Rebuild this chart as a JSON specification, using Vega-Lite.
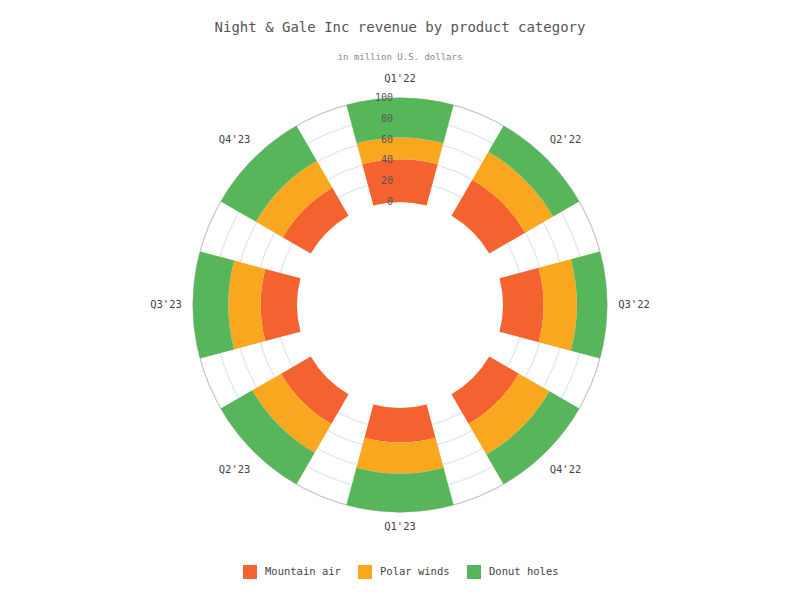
{
  "$schema": "https://vega.github.io/schema/vega-lite/v6.json",
  "width": 800,
  "height": 470,
  "autosize": {"type": "none"},
  "padding": {"left": 0, "right": 0, "top": 70, "bottom": 60},
  "background": "white",
  "title": {
    "text": "Night & Gale Inc revenue by product category",
    "subtitle": "in million U.S. dollars",
    "font": "DejaVu Sans Mono",
    "fontSize": 14,
    "fontWeight": "normal",
    "color": "#555555",
    "subtitleFont": "DejaVu Sans Mono",
    "subtitleFontSize": 9,
    "subtitleColor": "#888888",
    "subtitlePadding": 18,
    "anchor": "middle",
    "offset": 8
  },
  "datasets": {
    "revenue": [
      {"quarter": "Q1'22", "category": "Mountain air", "value": 41},
      {"quarter": "Q1'22", "category": "Polar winds", "value": 21},
      {"quarter": "Q1'22", "category": "Donut holes", "value": 38},
      {"quarter": "Q2'22", "category": "Mountain air", "value": 40},
      {"quarter": "Q2'22", "category": "Polar winds", "value": 31},
      {"quarter": "Q2'22", "category": "Donut holes", "value": 29},
      {"quarter": "Q3'22", "category": "Mountain air", "value": 39},
      {"quarter": "Q3'22", "category": "Polar winds", "value": 32},
      {"quarter": "Q3'22", "category": "Donut holes", "value": 29},
      {"quarter": "Q4'22", "category": "Mountain air", "value": 33},
      {"quarter": "Q4'22", "category": "Polar winds", "value": 34},
      {"quarter": "Q4'22", "category": "Donut holes", "value": 33},
      {"quarter": "Q1'23", "category": "Mountain air", "value": 33},
      {"quarter": "Q1'23", "category": "Polar winds", "value": 30},
      {"quarter": "Q1'23", "category": "Donut holes", "value": 37},
      {"quarter": "Q2'23", "category": "Mountain air", "value": 33},
      {"quarter": "Q2'23", "category": "Polar winds", "value": 32},
      {"quarter": "Q2'23", "category": "Donut holes", "value": 35},
      {"quarter": "Q3'23", "category": "Mountain air", "value": 35},
      {"quarter": "Q3'23", "category": "Polar winds", "value": 31},
      {"quarter": "Q3'23", "category": "Donut holes", "value": 34},
      {"quarter": "Q4'23", "category": "Mountain air", "value": 31},
      {"quarter": "Q4'23", "category": "Polar winds", "value": 30},
      {"quarter": "Q4'23", "category": "Donut holes", "value": 39}
    ],
    "categories": [
      {"category": "Mountain air", "rank": 1},
      {"category": "Polar winds", "rank": 2},
      {"category": "Donut holes", "rank": 3}
    ],
    "ticks": [
      {"tick": 0}, {"tick": 20}, {"tick": 40}, {"tick": 60}, {"tick": 80}, {"tick": 100}
    ],
    "quarters": [
      {"quarter": "Q1'22"}, {"quarter": "Q2'22"}, {"quarter": "Q3'22"}, {"quarter": "Q4'22"},
      {"quarter": "Q1'23"}, {"quarter": "Q2'23"}, {"quarter": "Q3'23"}, {"quarter": "Q4'23"}
    ]
  },
  "layer": [
    {
      "data": {"name": "ticks"},
      "transform": [{"filter": "datum.tick > 0 && datum.tick < 100"}],
      "mark": {"type": "arc", "theta": 0, "theta2": 6.2832, "filled": false, "fill": null, "stroke": "#e0e7ef", "strokeWidth": 1},
      "encoding": {
        "radius": {"field": "tick", "type": "quantitative", "stack": null, "scale": {"type": "linear", "domain": [0, 100], "range": [103, 207], "zero": false}},
        "radius2": {"field": "tick"}
      }
    },
    {
      "data": {"name": "ticks"},
      "transform": [{"filter": "datum.tick == 100"}],
      "mark": {"type": "arc", "theta": 0, "theta2": 6.2832, "filled": false, "fill": null, "stroke": "#c8c8c8", "strokeWidth": 1},
      "encoding": {
        "radius": {"field": "tick", "type": "quantitative", "stack": null, "scale": {"type": "linear", "domain": [0, 100], "range": [103, 207], "zero": false}},
        "radius2": {"field": "tick"}
      }
    },
    {
      "data": {"name": "revenue"},
      "transform": [
        {"lookup": "category", "from": {"data": {"name": "categories"}, "key": "category", "fields": ["rank"]}}
      ],
      "mark": {"type": "arc", "stroke": null},
      "encoding": {
        "theta": {
          "field": "quarter", "type": "nominal",
          "scale": {"type": "band", "domain": ["Q1'22", "Q2'22", "Q3'22", "Q4'22", "Q1'23", "Q2'23", "Q3'23", "Q4'23"], "range": [-0.392699, 5.890486], "paddingInner": 0.333, "paddingOuter": 0.1665}
        },
        "radius": {"field": "value", "type": "quantitative", "stack": true, "scale": {"type": "linear", "domain": [0, 100], "range": [103, 207], "zero": false}},
        "color": {
          "field": "category", "type": "nominal",
          "sort": ["Mountain air", "Polar winds", "Donut holes"],
          "scale": {"domain": ["Mountain air", "Polar winds", "Donut holes"], "range": ["#F4632F", "#F9A71F", "#57B65A"]},
          "legend": {
            "title": null, "orient": "none", "legendX": 243, "legendY": 495, "direction": "horizontal",
            "symbolType": "square", "symbolSize": 196, "symbolStrokeWidth": 0,
            "labelFont": "DejaVu Sans Mono", "labelFontSize": 10.5, "labelColor": "#444444",
            "labelOffset": 8, "columnPadding": 17
          }
        },
        "order": {"field": "rank", "type": "quantitative", "sort": "ascending"}
      }
    },
    {
      "data": {"name": "ticks"},
      "mark": {"type": "text", "align": "right", "baseline": "middle", "dx": -7, "font": "DejaVu Sans Mono", "fontSize": 10, "color": "#555555"},
      "encoding": {
        "theta": {"datum": "Q1'22", "type": "nominal"},
        "radius": {"field": "tick", "type": "quantitative", "stack": null, "scale": {"type": "linear", "domain": [0, 100], "range": [103, 207], "zero": false}},
        "text": {"field": "tick", "type": "quantitative"}
      }
    },
    {
      "data": {"name": "quarters"},
      "transform": [{"filter": {"field": "quarter", "oneOf": ["Q1'22", "Q1'23"]}}],
      "mark": {"type": "text", "radius": 224, "dy": -2.5, "align": "center", "baseline": "middle", "font": "DejaVu Sans Mono", "fontSize": 10.5, "color": "#444444"},
      "encoding": {
        "theta": {"field": "quarter", "type": "nominal"},
        "text": {"field": "quarter", "type": "nominal"}
      }
    },
    {
      "data": {"name": "quarters"},
      "transform": [{"filter": {"not": {"field": "quarter", "oneOf": ["Q1'22", "Q1'23"]}}}],
      "mark": {"type": "text", "radius": 234, "align": "center", "baseline": "middle", "font": "DejaVu Sans Mono", "fontSize": 10.5, "color": "#444444"},
      "encoding": {
        "theta": {"field": "quarter", "type": "nominal"},
        "text": {"field": "quarter", "type": "nominal"}
      }
    }
  ],
  "config": {
    "view": {"stroke": null}
  }
}
